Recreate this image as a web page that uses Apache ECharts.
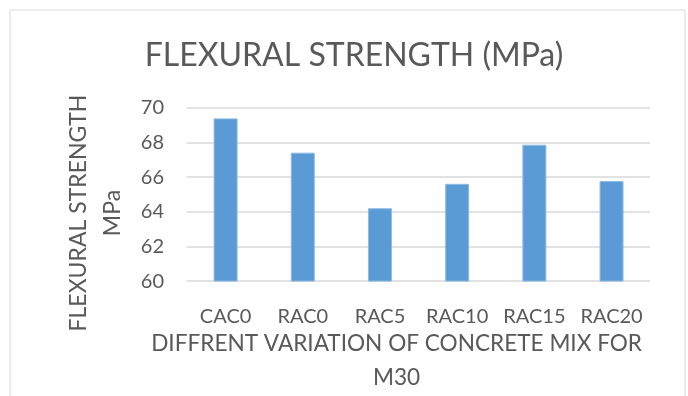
<!DOCTYPE html>
<html>
<head>
<meta charset="utf-8">
<script src="https://cdn.jsdelivr.net/npm/echarts@6/dist/echarts.min.js"></script>
<style>
	html, body { margin: 0; padding: 0; background: #fff; }
	#chart { width: 688px; height: 396px; }
</style>
</head>
<body>
<div id="chart"></div>
<script>
// -------------------------
// Flexural strength bar chart
// -------------------------

// Data
const mixes = ['CAC0', 'RAC0', 'RAC5', 'RAC10', 'RAC15', 'RAC20'];
const strength = [69.4, 67.42, 64.21, 65.62, 67.88, 65.78];
const yTicks = [60, 62, 64, 66, 68, 70];

// Colors
const barColor = '#5b9bd5';
const textColor = '#595959';
const gridColor = '#d9d9d9';
const font = 'Lato';

const chart = echarts.init(document.getElementById('chart'));

const option = {
	animation: false,
	textStyle: { fontFamily: font },
	graphic: [
		{
			type: 'rect',
			shape: { x: 10, y: 10, width: 675, height: 400 },
			style: { fill: 'none', stroke: gridColor, lineWidth: 1 },
			silent: true
		}
	],
	title: {
		text: 'FLEXURAL STRENGTH (MPa)',
		left: 349,
		textAlign: 'center',
		top: 35,
		textStyle: { fontFamily: font, fontSize: 32, fontWeight: 'normal', color: textColor }
	},
	grid: { left: 187, right: 33, top: 108, bottom: 108 },
	xAxis: {
		type: 'category',
		data: mixes,
		name: 'DIFFRENT VARIATION OF CONCRETE MIX FOR\nM30',
		nameLocation: 'middle',
		nameGap: 44,
		nameTextStyle: {
			fontFamily: font, fontSize: 22.6, color: textColor,
			lineHeight: 34, padding: [0, 44, 0, 0]
		},
		axisLine: { show: false },
		axisTick: { show: false },
		axisLabel: { interval: 0, fontFamily: font, fontSize: 20, color: textColor, margin: 25 }
	},
	yAxis: {
		type: 'value',
		min: yTicks[0],
		max: yTicks[yTicks.length - 1],
		interval: 2,
		name: 'FLEXURAL STRENGTH\nMPa',
		nameLocation: 'middle',
		nameGap: 55,
		nameTextStyle: {
			fontFamily: font, fontSize: 23, color: textColor,
			lineHeight: 34, padding: [0, 37, 0, 0]
		},
		axisLine: { show: false },
		axisTick: { show: false },
		axisLabel: { fontFamily: font, fontSize: 20, color: textColor, margin: 23 },
		splitLine: { lineStyle: { color: gridColor, width: 1.5 } }
	},
	series: [
		{
			type: 'bar',
			data: strength,
			barWidth: 24,
			itemStyle: { color: barColor, borderColor: '#8fbbe3', borderWidth: 1 }
		}
	]
};

chart.setOption(option);
</script>
</body>
</html>
